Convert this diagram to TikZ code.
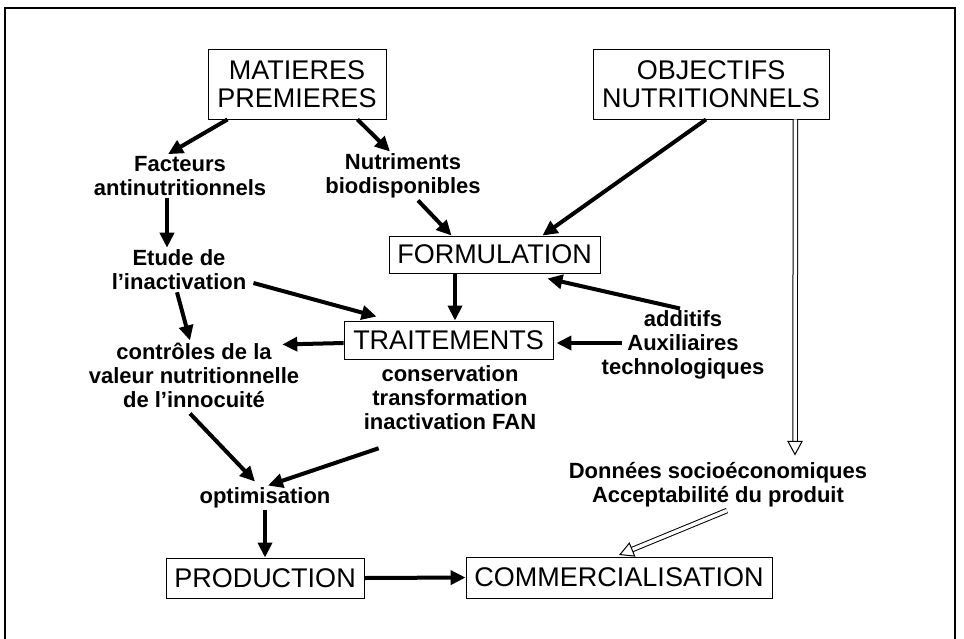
\documentclass[tikz,border=0pt]{standalone}
\usepackage{fontspec}
\setmainfont{Liberation Sans}
\usetikzlibrary{calc,arrows.meta}
\def\boxfont{\fontsize{27}{28}\selectfont}
\def\lblfont{\fontsize{22}{24}\selectfont\bfseries}
\def\hollowarrow(#1)(#2){\coordinate (hb) at ($(#2)!13pt!(#1)$);
	\draw[double, double distance=3.5pt, line width=1pt] (#1) -- (hb);
	\draw[line width=1pt, fill=white] (#2) -- ($(hb)!7pt!90:(#2)$) -- ($(hb)!7pt!-90:(#2)$) -- cycle;}

\begin{document}
\begin{tikzpicture}[x=1pt, y=-1pt,
	box/.style={draw, line width=0.9pt, font=\boxfont, align=center, inner sep=0pt},
	lbl/.style={font=\lblfont, align=center, inner sep=2pt},
	arr/.style={line width=4pt, -{Triangle[length=15pt, width=14pt]}}]
		%%%%% START %%%%%
		\useasboundingbox (0,0) rectangle (964,638);
		\draw[line width=1.3pt] (5,645) -- (5,8) -- (955,8) -- (955,645);
		
		\node[box, minimum width=178pt, minimum height=70pt] (mat) at (297,84) {MATIERES\\PREMIERES};
		\node[box, minimum width=236pt, minimum height=70pt] (obj) at (711,84) {OBJECTIFS\\NUTRITIONNELS};
		\node[box, minimum width=211pt, minimum height=37pt] (form) at (494.5,254.5) {FORMULATION};
		\node[box, minimum width=209pt, minimum height=38pt] (trt) at (448.5,340) {TRAITEMENTS};
		\node[box, minimum width=198pt, minimum height=40pt] (prod) at (265,578) {PRODUCTION};
		\node[box, minimum width=306pt, minimum height=41pt] (comm) at (619,577.5) {COMMERCIALISATION};
		
		\node[lbl] (fac) at (180,176) {Facteurs\\antinutritionnels};
		\node[lbl] (nut) at (403,176) {Nutriments\\biodisponibles};
		\node[lbl] (etu) at (179,270) {Etude de\\l'inactivation};
		\node[lbl] (ctl) at (194,375) {contrôles de la\\valeur nutritionnelle\\de l'innocuité};
		\node[lbl] (cons) at (450,398) {conservation\\transformation\\inactivation FAN};
		\node[lbl] (add) at (683,345) {additifs\\Auxiliaires\\technologiques};
		\node[lbl] (opt) at (265,498) {optimisation};
		\node[lbl] (soc) at (718,485) {Données socioéconomiques\\Acceptabilité du produit};
		
		\draw[arr] ($(mat.south west)+(20,0)$) -- ($(fac.north)+(-12,0)$);
		\draw[arr] ($(mat.south east)+(-29,0)$) -- ($(nut.north)+(-13,0)$);
		\draw[arr] ($(fac.south)+(-13,0)$) -- ($(etu.north)+(-12,0)$);
		\draw[arr] ($(nut.south)+(15,0)$) -- ($(form.north west)+(63,0)$);
		\draw[arr] ($(obj.south)+(-5,0)$) -- ($(form.north east)+(-58,0)$);
		\draw[arr] ($(etu.east)+(5,13)$) -- ($(trt.north west)+(33,-4)$);
		\draw[arr] ($(form.south)+(-39.5,0)$) -- ($(trt.north)+(6.5,0)$);
		\draw[arr] ($(add.north)+(-3,0)$) -- ($(form.south east)+(-53,5)$);
		\draw[arr] ($(etu.south)+(-2,0)$) -- ($(ctl.north)+(-4,0)$);
		\draw[arr] ($(trt.west)+(0,3)$) -- ($(ctl.north east)+(-19,4)$);
		\draw[arr] ($(add.west)+(22,-2)$) -- ($(trt.east)+(3,3)$);
		\draw[arr] ($(ctl.south)+(-4,4)$) -- ($(opt.north)+(-10,-4)$);
		\draw[arr] ($(cons.south west)+(17,16)$) -- ($(opt.north)+(3,0)$);
		\draw[arr] (opt.south) -- (prod.north);
		\draw[arr] (prod.east) -- (comm.west);
		
		\coordinate (o1) at ($(obj.south east)+(-34,0)$);
		\coordinate (o2) at ($(soc.north)+(77,-6)$);
		\hollowarrow(o1)(o2)
		\coordinate (s1) at ($(soc.south)+(9,1)$);
		\coordinate (s2) at ($(comm.north)+(1,-2)$);
		\hollowarrow(s1)(s2)
		%%%%% END %%%%%
\end{tikzpicture}
\end{document}
